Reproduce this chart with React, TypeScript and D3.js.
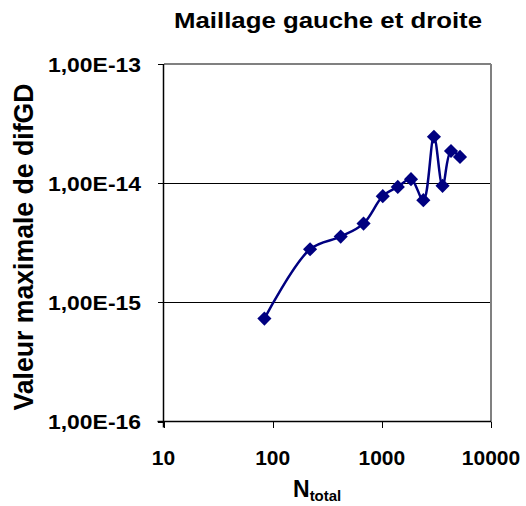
import React from 'react';
import * as d3 from 'd3';

const nTotal = [84, 220, 420, 680, 1020, 1400, 1850, 2400, 3000, 3600, 4300, 5200];
const difGD = [7.3e-16, 2.79e-15, 3.56e-15, 4.58e-15, 7.78e-15, 9.3e-15, 1.08e-14, 7.2e-15, 2.45e-14, 9.5e-15, 1.86e-14, 1.66e-14];
const xTicks = [10, 100, 1000, 10000];
const yTicks = [1e-16, 1e-15, 1e-14, 1e-13];
const yTickLabels = ['1,00E-16', '1,00E-15', '1,00E-14', '1,00E-13'];

const W = 526;
const H = 506;
const left = 163.5;
const right = 491;
const top = 64;
const bottom = 421.5;
const font = 'Arial, "Liberation Sans", sans-serif';

const App = () => {
  const x = d3.scaleLog().domain([10, 10000]).range([left, right]);
  const y = d3.scaleLog().domain([1e-16, 1e-13]).range([bottom, top]);

  const pts: [number, number][] = nTotal.map((n, i) => [x(n), y(difGD[i])]);
  const line = d3.line().curve(d3.curveCatmullRom.alpha(0.5))(pts) || '';
  const diamond = d3.symbol().type(d3.symbolSquare).size(100)() || '';

  return (
    <svg width={W} height={H} style={{ position: 'absolute', left: 0, top: 0, background: '#fff' }}
      fontFamily={font} fontWeight="bold">
      <text x={328} y={28} fontSize={21.5} textAnchor="middle" textLength={308} lengthAdjust="spacingAndGlyphs">
        Maillage gauche et droite
      </text>

      {/* gridlines */}
      {yTicks.slice(1, 3).map(t => (
        <line key={t} x1={left} x2={right} y1={Math.round(y(t)) + 0.5} y2={Math.round(y(t)) + 0.5}
          stroke="#000" strokeWidth={1} shapeRendering="crispEdges" />
      ))}

      {/* frame */}
      <line x1={left} x2={right} y1={top} y2={top} stroke="#808080" strokeWidth={2} shapeRendering="crispEdges" />
      <line x1={right} x2={right} y1={top} y2={bottom} stroke="#808080" strokeWidth={2} shapeRendering="crispEdges" />
      <line x1={left} x2={left} y1={top} y2={bottom + 6} stroke="#000" strokeWidth={1.5} />
      <line x1={left - 6} x2={right} y1={bottom} y2={bottom} stroke="#000" strokeWidth={1.5} />

      {yTicks.map((t, i) => (
        <g key={t}>
          <line x1={left - 6} x2={left} y1={Math.round(y(t)) + 0.5} y2={Math.round(y(t)) + 0.5}
            stroke="#000" strokeWidth={1} shapeRendering="crispEdges" />
          <text x={141} y={y(t) + 7.5} fontSize={20} textAnchor="end" textLength={93} lengthAdjust="spacingAndGlyphs">
            {yTickLabels[i]}
          </text>
        </g>
      ))}
      {xTicks.map(t => (
        <g key={t}>
          <line x1={Math.round(x(t)) + 0.5} x2={Math.round(x(t)) + 0.5} y1={bottom} y2={bottom + 6}
            stroke="#000" strokeWidth={1} shapeRendering="crispEdges" />
          <text x={x(t)} y={465} fontSize={21} textAnchor="middle">{t}</text>
        </g>
      ))}

      <text x={293} y={497} fontSize={23}>
        N<tspan fontSize={15} dy={4}>total</tspan>
      </text>

      <text transform="translate(33,247) rotate(-90)" fontSize={28} textAnchor="middle"
        textLength={327} lengthAdjust="spacingAndGlyphs">
        Valeur maximale de difGD
      </text>

      <path d={line} fill="none" stroke="#000080" strokeWidth={2.5} />
      {pts.map((p, i) => (
        <path key={i} d={diamond} transform={`translate(${p[0]},${p[1]}) rotate(45)`} fill="#000080" />
      ))}
    </svg>
  );
};

export default App;
